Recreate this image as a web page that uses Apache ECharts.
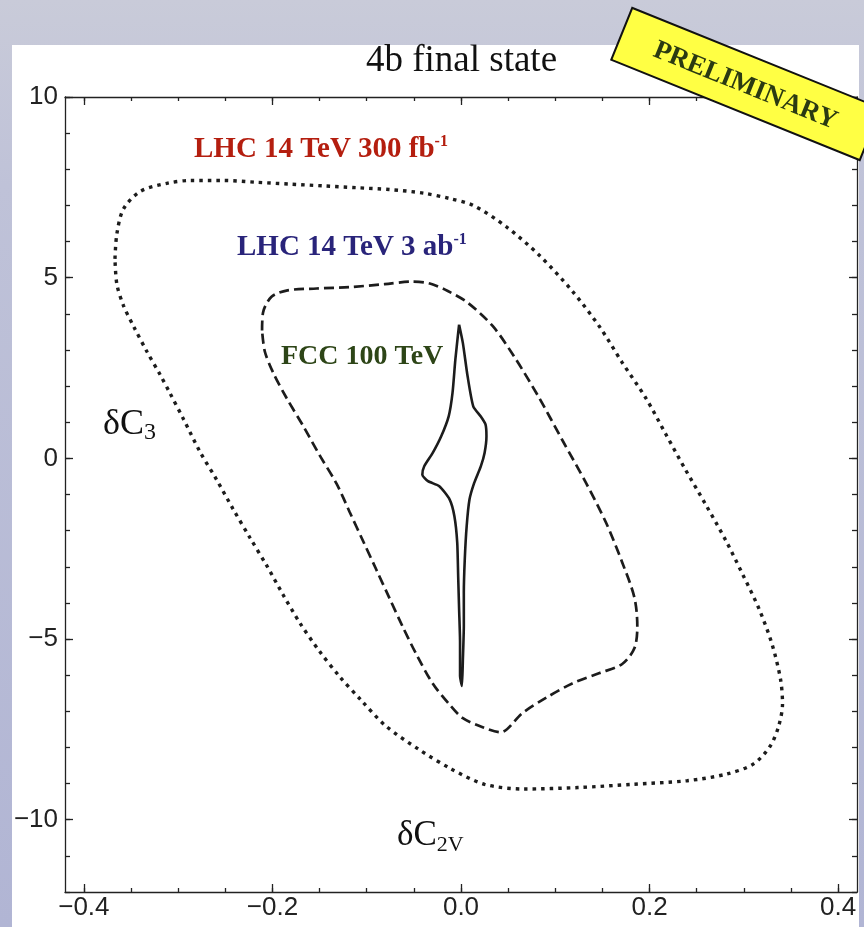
<!DOCTYPE html>
<html>
<head>
<meta charset="utf-8">
<script src="https://cdn.jsdelivr.net/npm/echarts@6.0.0/dist/echarts.min.js"></script>
<style>
  html, body { margin: 0; padding: 0; width: 864px; height: 927px; overflow: hidden; }
  body { background: linear-gradient(180deg, #c9cbd9 0%, #bfc2d8 20%, #b1b5d4 100%); }
  #panel { position: absolute; left: 12px; top: 45px; width: 847px; height: 882px; background: #fff; }
  #chart { position: absolute; left: 0; top: 0; width: 864px; height: 927px; }
</style>
</head>
<body>
<div id="panel"></div>
<div id="chart"></div>
<script>
// Axis ranges and tick positions
const xRange = [-0.42, 0.42];
const yRange = [-12, 10];
const xMajorTicks = [-0.4, -0.2, 0, 0.2, 0.4];
const xMinorTicks = [-0.4, -0.35, -0.3, -0.25, -0.2, -0.15, -0.1, -0.05, 0,
                     0.05, 0.1, 0.15, 0.2, 0.25, 0.3, 0.35, 0.4];
const yMajorTicks = [-10, -5, 0, 5, 10];
const yMinorTicks = [-12, -11, -10, -9, -8, -7, -6, -5, -4, -3, -2, -1, 0,
                     1, 2, 3, 4, 5, 6, 7, 8, 9, 10];

// Contours in the (dC2V, dC3) plane, [dC2V, dC3]
const lhc300Contour = [
  [-0.367, 5.52], [-0.365, 6.21], [-0.358, 6.90], [-0.340, 7.39], [-0.312, 7.61],
  [-0.287, 7.69], [-0.252, 7.69], [-0.217, 7.64], [-0.182, 7.59], [-0.146, 7.54],
  [-0.111, 7.49], [-0.076, 7.44], [-0.040, 7.34], [-0.012, 7.19], [0.013, 7.00],
  [0.048, 6.41], [0.083, 5.62], [0.118, 4.63], [0.147, 3.64], [0.171, 2.65],
  [0.196, 1.67], [0.217, 0.68], [0.238, -0.31], [0.260, -1.30], [0.281, -2.28],
  [0.298, -3.17], [0.316, -4.16], [0.330, -5.15], [0.339, -6.13], [0.341, -6.80],
  [0.337, -7.40], [0.328, -7.96], [0.310, -8.46], [0.281, -8.74], [0.240, -8.92],
  [0.182, -9.02], [0.124, -9.11], [0.066, -9.15], [0.025, -9.02], [-0.010, -8.60],
  [-0.045, -8.05], [-0.080, -7.40], [-0.106, -6.69], [-0.129, -6.03], [-0.150, -5.34],
  [-0.171, -4.55], [-0.189, -3.76], [-0.206, -2.97], [-0.224, -2.19], [-0.242, -1.39],
  [-0.259, -0.60], [-0.277, 0.19], [-0.294, 1.07], [-0.309, 1.82], [-0.319, 2.31],
  [-0.333, 2.95], [-0.347, 3.64], [-0.358, 4.23], [-0.365, 4.82], [-0.367, 5.52]
];

const lhc3000Contour = [
  [-0.211, 3.54], [-0.210, 4.03], [-0.201, 4.47], [-0.184, 4.65], [-0.153, 4.70],
  [-0.118, 4.74], [-0.081, 4.82], [-0.053, 4.89], [-0.033, 4.84], [-0.014, 4.63],
  [0.007, 4.31], [0.034, 3.65], [0.058, 2.75], [0.083, 1.67], [0.108, 0.48],
  [0.133, -0.70], [0.154, -1.79], [0.171, -2.88], [0.184, -3.86],
  [0.187, -4.65], [0.184, -5.25], [0.171, -5.69], [0.147, -5.94], [0.118, -6.23],
  [0.090, -6.63], [0.065, -7.05], [0.042, -7.58], [0.023, -7.44], [0.002, -7.19],
  [-0.012, -6.82], [-0.030, -6.23], [-0.047, -5.44], [-0.062, -4.65], [-0.076, -3.86],
  [-0.090, -3.07], [-0.104, -2.28], [-0.118, -1.49], [-0.132, -0.70], [-0.150, 0.09],
  [-0.167, 0.88], [-0.185, 1.67], [-0.199, 2.36], [-0.208, 2.95], [-0.211, 3.54]
];

const fcc100Contour = [
  [-0.002, 3.70], [0.002, 3.19], [0.007, 2.27], [0.013, 1.44], [0.021, 1.16],
  [0.026, 0.94], [0.027, 0.61], [0.025, 0.15], [0.021, -0.22], [0.014, -0.68],
  [0.009, -1.14], [0.006, -1.88], [0.004, -2.80], [0.003, -3.72], [0.003, -4.64],
  [0.002, -5.56], [0.001, -6.30], [-0.001, -6.02], [-0.001, -5.10], [-0.002, -4.18],
  [-0.003, -3.26], [-0.004, -2.33], [-0.007, -1.60], [-0.012, -1.14], [-0.023, -0.77],
  [-0.035, -0.63], [-0.041, -0.45], [-0.039, -0.22], [-0.030, 0.15], [-0.021, 0.61],
  [-0.013, 1.17], [-0.009, 1.81], [-0.006, 2.73], [-0.003, 3.47], [-0.002, 3.70]
];

const MINUS = '\u2212';
const frameColor = '#222';
const tickFont = { fontFamily: '"Liberation Sans", Arial, sans-serif', fontSize: 26, color: '#222' };

function fmtX(v) { return (v < 0 ? MINUS : '') + Math.abs(v).toFixed(1); }
function fmtY(v) { return (v < 0 ? MINUS : '') + Math.abs(v); }

// One frame edge: axis line + inward ticks (+ optional labels)
function frameAxis(range, position, tickValues, tickLen, showLine, labelValues, fmt, margin) {
  return {
    type: 'value',
    position: position,
    min: range[0],
    max: range[1],
    axisLine: { show: showLine, onZero: false, lineStyle: { color: frameColor, width: 1.3 } },
    axisTick: { show: true, inside: true, length: tickLen, customValues: tickValues,
                lineStyle: { color: frameColor, width: 1.3 } },
    axisLabel: labelValues
      ? Object.assign({ show: true, customValues: labelValues, formatter: fmt, margin: margin }, tickFont)
      : { show: false },
    splitLine: { show: false },
    minorTick: { show: false }
  };
}

const serifFamily = '"Liberation Serif", "Times New Roman", serif';

const chart = echarts.init(document.getElementById('chart'), null, { renderer: 'canvas' });
chart.setOption({
  animation: false,
  backgroundColor: 'transparent',
  grid: { left: 65, top: 97, width: 792, height: 795, outerBoundsMode: 'none', containLabel: false },
  xAxis: [
    frameAxis(xRange, 'bottom', xMajorTicks, 8, true, xMajorTicks, fmtX, 3),
    frameAxis(xRange, 'bottom', xMinorTicks, 4, false),
    frameAxis(xRange, 'top', xMajorTicks, 8, true),
    frameAxis(xRange, 'top', xMinorTicks, 4, false)
  ],
  yAxis: [
    frameAxis(yRange, 'left', yMajorTicks, 8, true, yMajorTicks, fmtY, 7),
    frameAxis(yRange, 'left', yMinorTicks, 5, false),
    frameAxis(yRange, 'right', yMajorTicks, 8, true),
    frameAxis(yRange, 'right', yMinorTicks, 5, false)
  ],
  series: [
    {
      name: 'LHC 14 TeV 300 fb-1', type: 'line', data: lhc300Contour,
      xAxisIndex: 0, yAxisIndex: 0, symbol: 'none', smooth: 0.3, silent: true,
      lineStyle: { color: '#1c1c1c', width: 3.4, type: [3.5, 5] }
    },
    {
      name: 'LHC 14 TeV 3 ab-1', type: 'line', data: lhc3000Contour,
      xAxisIndex: 0, yAxisIndex: 0, symbol: 'none', smooth: 0.3, silent: true,
      lineStyle: { color: '#1c1c1c', width: 2.7, type: [10, 5] }
    },
    {
      name: 'FCC 100 TeV', type: 'line', data: fcc100Contour,
      xAxisIndex: 0, yAxisIndex: 0, symbol: 'none', smooth: 0.2, silent: true,
      lineStyle: { color: '#1c1c1c', width: 2.6, type: 'solid' }
    }
  ],
  graphic: [
    {
      type: 'text', x: 461.5, y: 61.5, z: 50, silent: true,
      style: { text: '4b final state', fontFamily: serifFamily, fontSize: 37,
               fill: '#111', align: 'center', verticalAlign: 'middle' }
    },
    {
      type: 'text', x: 194, y: 133.5, z: 50, silent: true,
      style: {
        text: '{m|LHC 14 TeV 300 fb}{s|-1}', align: 'left', verticalAlign: 'top',
        rich: {
          m: { fontFamily: serifFamily, fontWeight: 'bold', fontSize: 29, lineHeight: 32, fill: '#b41e0f' },
          s: { fontFamily: serifFamily, fontWeight: 'bold', fontSize: 16, lineHeight: 14, verticalAlign: 'top', fill: '#b41e0f' }
        }
      }
    },
    {
      type: 'text', x: 237, y: 231.5, z: 50, silent: true,
      style: {
        text: '{m|LHC 14 TeV 3 ab}{s|-1}', align: 'left', verticalAlign: 'top',
        rich: {
          m: { fontFamily: serifFamily, fontWeight: 'bold', fontSize: 29, lineHeight: 32, fill: '#29247a' },
          s: { fontFamily: serifFamily, fontWeight: 'bold', fontSize: 16, lineHeight: 14, verticalAlign: 'top', fill: '#29247a' }
        }
      }
    },
    {
      type: 'text', x: 281, y: 357, z: 50, silent: true,
      style: { text: 'FCC 100 TeV', fontFamily: serifFamily, fontWeight: 'bold', fontSize: 28,
               fill: '#2d4517', align: 'left', verticalAlign: 'middle' }
    },
    {
      type: 'text', x: 103, y: 405, z: 50, silent: true,
      style: {
        text: '{m|\u03b4C}{s|3}', align: 'left', verticalAlign: 'top',
        rich: {
          m: { fontFamily: serifFamily, fontSize: 36, lineHeight: 40, fill: '#111' },
          s: { fontFamily: serifFamily, fontSize: 24, lineHeight: 24, verticalAlign: 'bottom', fill: '#111' }
        }
      }
    },
    {
      type: 'text', x: 397, y: 816, z: 50, silent: true,
      style: {
        text: '{m|\u03b4C}{s|2V}', align: 'left', verticalAlign: 'top',
        rich: {
          m: { fontFamily: serifFamily, fontSize: 35, lineHeight: 40, fill: '#111' },
          s: { fontFamily: serifFamily, fontSize: 22, lineHeight: 24, verticalAlign: 'bottom', fill: '#111' }
        }
      }
    },
    {
      type: 'group', x: 746, y: 84, rotation: -22 * Math.PI / 180, z: 100,
      children: [
        { type: 'rect', z: 100, silent: true,
          shape: { x: -134, y: -28, width: 268, height: 56 },
          style: { fill: '#ffff44', stroke: '#111', lineWidth: 2 } },
        { type: 'text', z: 101, silent: true, x: 0, y: 2,
          style: { text: 'PRELIMINARY', fontFamily: serifFamily, fontWeight: 'bold', fontSize: 27,
                   fill: '#2b3a12', align: 'center', verticalAlign: 'middle' } }
      ]
    }
  ]
});
</script>
</body>
</html>
